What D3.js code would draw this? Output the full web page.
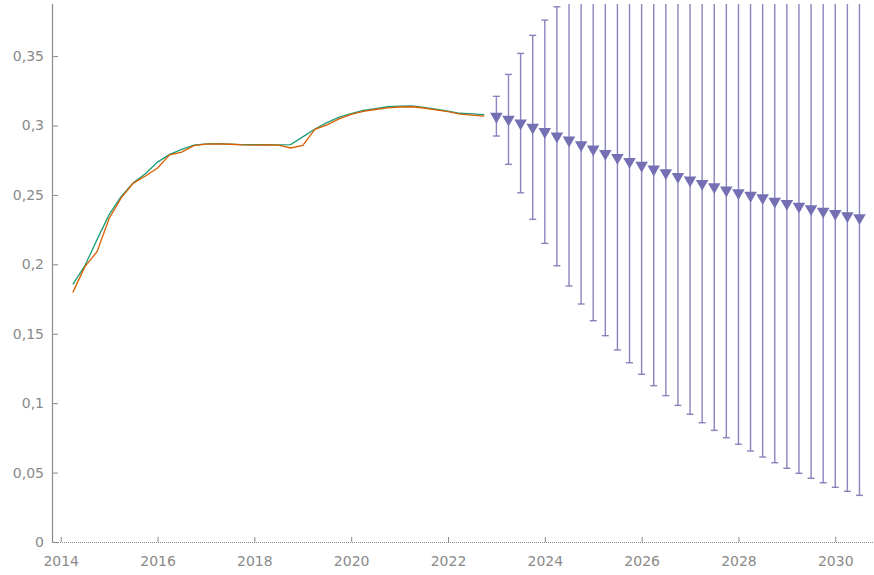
<!DOCTYPE html>
<html>
<head>
<meta charset="utf-8">
<script src="https://cdn.jsdelivr.net/npm/d3@7/dist/d3.min.js"></script>
<style>
  html, body { margin: 0; padding: 0; background: #fff; }
  svg { display: block; }
  .tick text { font-family: "DejaVu Sans", Verdana, sans-serif; font-size: 14px; fill: #8a8a8a; }
</style>
</head>
<body>
<svg id="chart" width="874" height="575"></svg>
<script>
// Quarterly observations
const histQuarters = [
  2014.25, 2014.5, 2014.75, 2015, 2015.25, 2015.5, 2015.75, 2016, 2016.25, 2016.5, 2016.75,
  2017, 2017.25, 2017.5, 2017.75, 2018, 2018.25, 2018.5, 2018.75, 2019, 2019.25, 2019.5, 2019.75,
  2020, 2020.25, 2020.5, 2020.75, 2021, 2021.25, 2021.5, 2021.75, 2022, 2022.25, 2022.5, 2022.75
];
const seriesGreen = [
  0.1856, 0.1990, 0.2178, 0.2358, 0.2490, 0.2588, 0.2652, 0.2736, 0.2792, 0.2828, 0.2859,
  0.2868, 0.2870, 0.2866, 0.2862, 0.2862, 0.2862, 0.2860, 0.2862, 0.2918, 0.2975, 0.3020, 0.3060,
  0.3085, 0.3108, 0.3122, 0.3135, 0.3140, 0.3141, 0.3130, 0.3117, 0.3104, 0.3088, 0.3083, 0.3078
];
const seriesOrange = [
  0.1798, 0.1983, 0.2091, 0.2330, 0.2478, 0.2585, 0.2636, 0.2694, 0.2788, 0.2808, 0.2855,
  0.2866, 0.2867, 0.2865, 0.2860, 0.2858, 0.2860, 0.2858, 0.2838, 0.2856, 0.2972, 0.3005, 0.3048,
  0.3080, 0.3101, 0.3115, 0.3127, 0.3133, 0.3135, 0.3126, 0.3113, 0.3100, 0.3082, 0.3075, 0.3068
];

// Forecast: quarterly point estimates with lower / upper bounds
const forecastQuarters = [
  2023, 2023.25, 2023.5, 2023.75, 2024, 2024.25, 2024.5, 2024.75, 2025, 2025.25, 2025.5, 2025.75,
  2026, 2026.25, 2026.5, 2026.75, 2027, 2027.25, 2027.5, 2027.75, 2028, 2028.25, 2028.5, 2028.75,
  2029, 2029.25, 2029.5, 2029.75, 2030, 2030.25, 2030.5
];
const forecastValue = [
  0.3065, 0.3044, 0.3017, 0.2987, 0.2955, 0.2923, 0.2894, 0.2861, 0.2829, 0.2798, 0.2769, 0.2740,
  0.2712, 0.2685, 0.2659, 0.2632, 0.2606, 0.2582, 0.2558, 0.2534, 0.2515, 0.2496, 0.2479, 0.2454,
  0.2438, 0.2418, 0.2400, 0.2382, 0.2366, 0.2349, 0.2335
];
const forecastLower = [
  0.2924, 0.2720, 0.2515, 0.2324, 0.2151, 0.1990, 0.1844, 0.1714, 0.1594, 0.1486, 0.1383, 0.1291,
  0.1208, 0.1126, 0.1054, 0.0984, 0.0920, 0.0859, 0.0804, 0.0751, 0.0704, 0.0655, 0.0612, 0.0571,
  0.0531, 0.0495, 0.0459, 0.0427, 0.0394, 0.0365, 0.0336
];
const forecastUpper = [
  0.3210, 0.3368, 0.3519, 0.3649, 0.3759, 0.3855, 0.3944, 0.4008, 0.4064, 0.4110, 0.4155, 0.4189,
  0.4216, 0.4244, 0.4264, 0.4280, 0.4292, 0.4305, 0.4312, 0.4317, 0.4326, 0.4337, 0.4346, 0.4337,
  0.4345, 0.4341, 0.4341, 0.4337, 0.4338, 0.4333, 0.4334
];

const yTicks = [0, 0.05, 0.1, 0.15, 0.2, 0.25, 0.3, 0.35];
const xTicks = [2014, 2016, 2018, 2020, 2022, 2024, 2026, 2028, 2030];

const colors = { green: "#1b9e77", orange: "#d95f02", forecast: "#7570b3", axis: "#8a8a8a" };

const svg = d3.select("#chart");
const plot = { left: 52, right: 874, top: 4, bottom: 542 };

const x = d3.scaleLinear().domain([2013.82, 2030.8]).range([plot.left, plot.right]);
const y = d3.scaleLinear().domain([0, 0.3875]).range([plot.bottom, plot.top]);

const locale = d3.formatLocale({ decimal: ",", thousands: " ", grouping: [3], currency: ["", ""] });
const fmtY = locale.format("~g");

svg.append("defs").append("clipPath").attr("id", "plotClip")
  .append("rect")
  .attr("x", plot.left).attr("y", plot.top)
  .attr("width", plot.right - plot.left).attr("height", plot.bottom - plot.top);

// Y axis (ticks point into the plot)
const yAxis = svg.append("g")
  .attr("transform", `translate(${plot.left},0)`)
  .call(d3.axisLeft(y).tickValues(yTicks).tickFormat(fmtY).tickSize(-6).tickPadding(8));
yAxis.select(".domain").attr("stroke", colors.axis).attr("stroke-width", 1.2)
  .attr("d", `M0.5,${plot.top}V${plot.bottom}`);
yAxis.selectAll(".tick line").attr("stroke", colors.axis).attr("stroke-width", 1);

// X axis (ticks point up into the plot), drawn with a fine dotted baseline
const xAxis = svg.append("g")
  .attr("transform", `translate(0,${plot.bottom})`)
  .call(d3.axisBottom(x).tickValues(xTicks).tickFormat(d3.format("d")).tickSize(-5).tickPadding(14));
xAxis.select(".domain").attr("stroke", colors.axis).attr("stroke-width", 1.2)
  .attr("stroke-dasharray", "1,1")
  .attr("d", `M${plot.left},0.5H${plot.right}`);
xAxis.selectAll(".tick line").attr("stroke", colors.axis).attr("stroke-width", 1);
xAxis.selectAll(".tick text").attr("dy", "0.71em");

const g = svg.append("g").attr("clip-path", "url(#plotClip)");

// Observed series
const line = d3.line().x(d => x(d[0])).y(d => y(d[1]));
g.append("path")
  .datum(histQuarters.map((q, i) => [q, seriesGreen[i]]))
  .attr("fill", "none").attr("stroke", colors.green).attr("stroke-width", 1.3)
  .attr("d", line);
g.append("path")
  .datum(histQuarters.map((q, i) => [q, seriesOrange[i]]))
  .attr("fill", "none").attr("stroke", colors.orange).attr("stroke-width", 1.3)
  .attr("d", line);

// Forecast error bars
const fc = forecastQuarters.map((q, i) => ({ q, v: forecastValue[i], lo: forecastLower[i], hi: forecastUpper[i] }));
const bars = g.append("g").attr("stroke", colors.forecast).attr("stroke-width", 1.4).attr("stroke-opacity", 0.85);
bars.selectAll("line.stem").data(fc).join("line").attr("class", "stem")
  .attr("x1", d => x(d.q)).attr("x2", d => x(d.q))
  .attr("y1", d => y(d.hi)).attr("y2", d => y(d.lo));
bars.selectAll("line.capLo").data(fc).join("line").attr("class", "capLo")
  .attr("x1", d => x(d.q) - 3.5).attr("x2", d => x(d.q) + 3.5)
  .attr("y1", d => y(d.lo)).attr("y2", d => y(d.lo));
bars.selectAll("line.capHi").data(fc).join("line").attr("class", "capHi")
  .attr("x1", d => x(d.q) - 3.5).attr("x2", d => x(d.q) + 3.5)
  .attr("y1", d => y(d.hi)).attr("y2", d => y(d.hi));

// Forecast markers: downward triangles
const tri = d3.symbol().type(d3.symbolTriangle).size(68);
g.append("g").selectAll("path").data(fc).join("path")
  .attr("d", tri)
  .attr("transform", d => `translate(${x(d.q)},${y(d.v)}) rotate(180)`)
  .attr("fill", colors.forecast);
</script>
</body>
</html>
